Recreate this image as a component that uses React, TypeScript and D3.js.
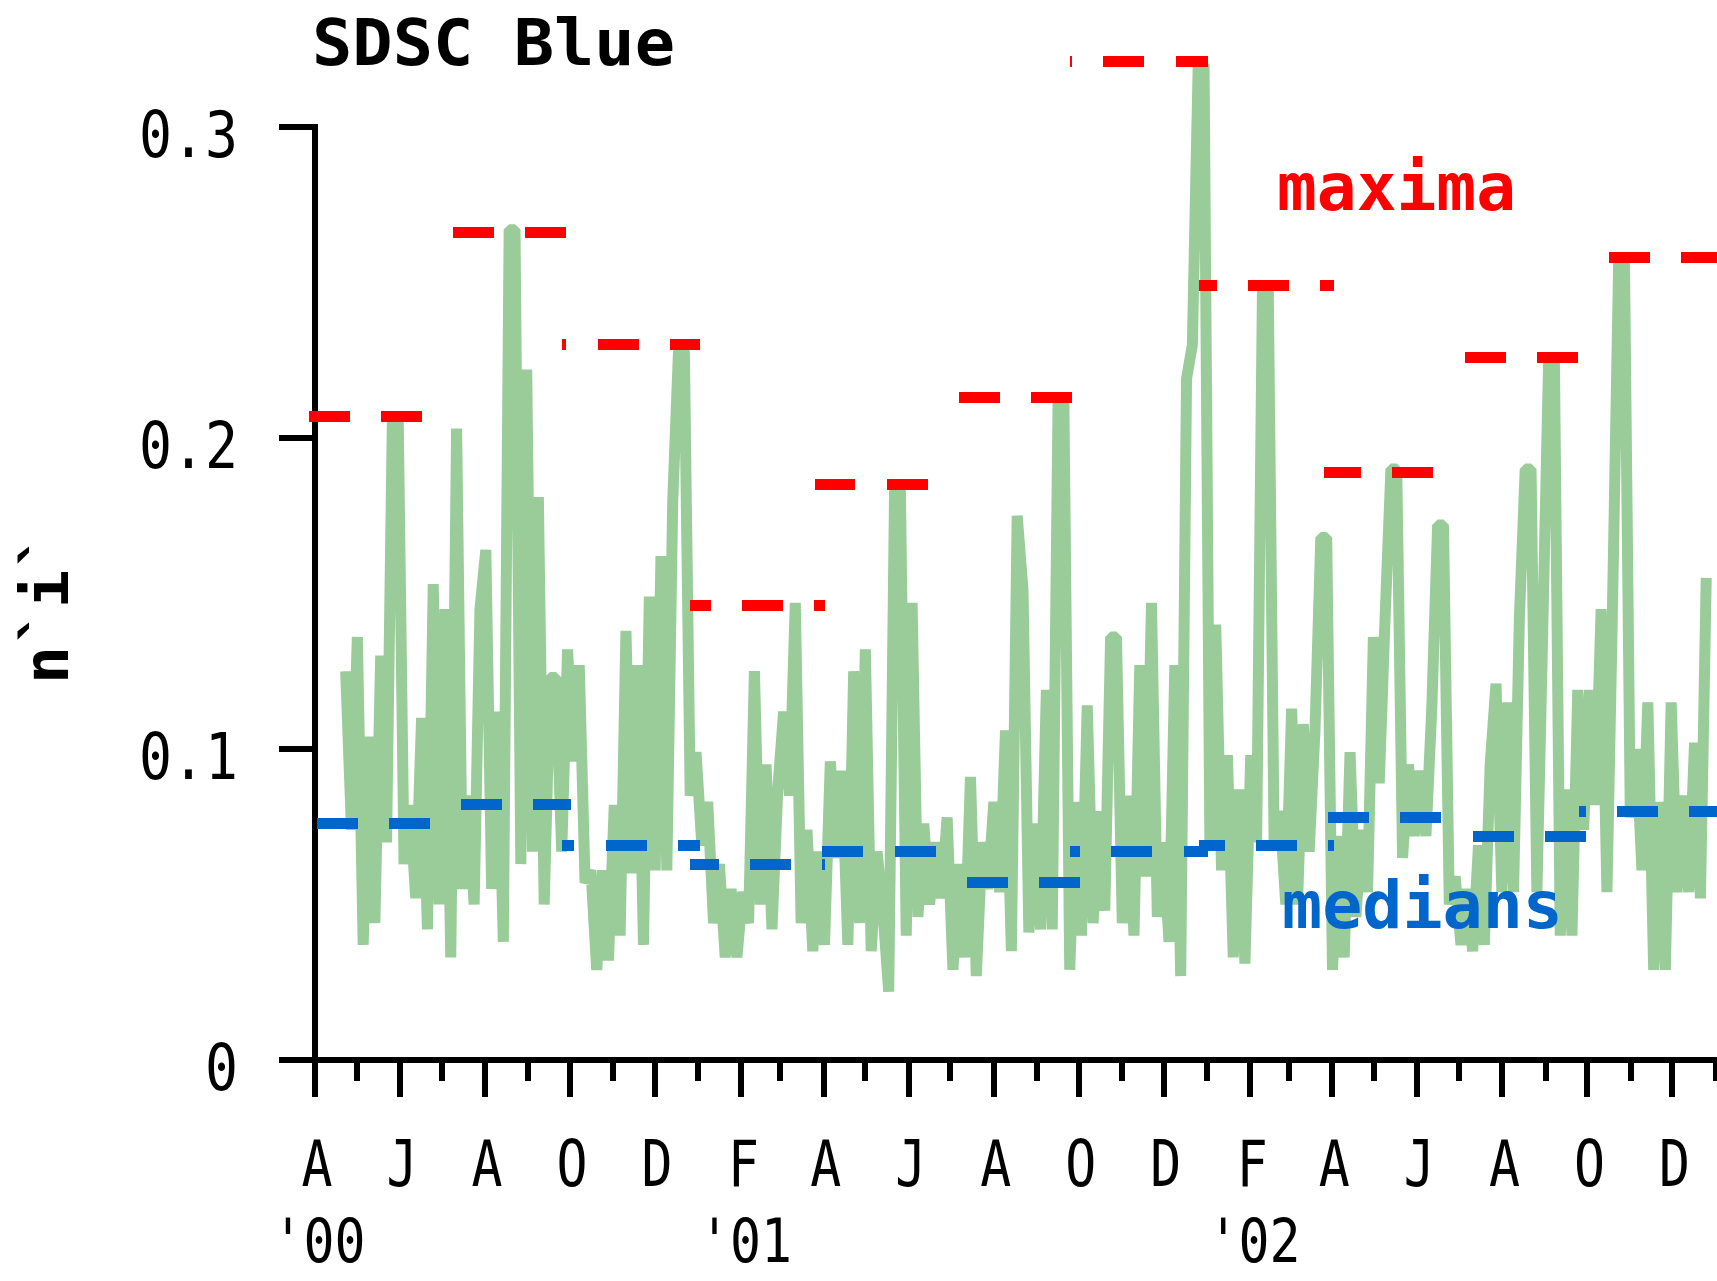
import React from 'react';
import * as d3 from 'd3';

// ---------- data ----------
// Green series: sampled values, evenly spaced in time
const sampleValues: number[] = [
  0.125, 0.074, 0.136, 0.037, 0.104, 0.044, 0.130, 0.070, 0.206, 0.206, 0.063, 0.082, 0.052, 0.110, 0.042, 0.153, 0.050, 0.145,
  0.033, 0.203, 0.055, 0.085, 0.050, 0.145, 0.164, 0.055, 0.112, 0.038, 0.267, 0.267, 0.063, 0.222, 0.067, 0.181, 0.050, 0.123,
  0.123, 0.067, 0.132, 0.096, 0.127, 0.057, 0.061, 0.029, 0.061, 0.032, 0.082, 0.040, 0.138, 0.060, 0.127, 0.037, 0.149, 0.061,
  0.162, 0.061, 0.179, 0.228, 0.228, 0.085, 0.099, 0.069, 0.083, 0.044, 0.063, 0.033, 0.055, 0.033, 0.054, 0.044, 0.125, 0.050,
  0.095, 0.042, 0.087,
  0.112, 0.085, 0.147, 0.044, 0.074, 0.035, 0.067, 0.037, 0.096, 0.065, 0.093, 0.037, 0.125, 0.044, 0.132, 0.035, 0.067, 0.048,
  0.022, 0.183, 0.183, 0.040, 0.147, 0.046, 0.076, 0.050, 0.070, 0.052, 0.078, 0.029, 0.063, 0.033, 0.091, 0.027, 0.070, 0.055,
  0.083, 0.054, 0.106, 0.035, 0.175,
  0.151, 0.041, 0.076, 0.042, 0.119, 0.042, 0.211, 0.211, 0.029, 0.083, 0.040, 0.114, 0.044, 0.080, 0.048, 0.136, 0.136, 0.044,
  0.085, 0.040, 0.127, 0.059, 0.147, 0.046, 0.070, 0.038, 0.127, 0.027, 0.219, 0.230, 0.320, 0.320, 0.070, 0.140, 0.061, 0.098,
  0.033, 0.087, 0.031, 0.098, 0.070,
  0.247, 0.247, 0.070, 0.080, 0.050, 0.113, 0.050, 0.108, 0.067, 0.106, 0.168, 0.168, 0.029, 0.072, 0.033, 0.099, 0.046, 0.074,
  0.054, 0.136, 0.089, 0.142, 0.190, 0.190, 0.065, 0.095, 0.072, 0.093, 0.072, 0.113, 0.172, 0.172, 0.050, 0.059, 0.037, 0.055,
  0.035, 0.069, 0.037, 0.095,
  0.121, 0.054, 0.115, 0.054, 0.142, 0.190, 0.190, 0.054, 0.138, 0.224, 0.224, 0.040, 0.087, 0.040, 0.119, 0.074, 0.119, 0.082,
  0.145, 0.054, 0.151, 0.256, 0.256, 0.078, 0.100, 0.061, 0.115, 0.029, 0.083, 0.029, 0.115, 0.054, 0.085, 0.054, 0.102, 0.052,
  0.155,
];
const sampleStartDate = '2000-04-23';
const sampleStepDays = 4.19;

// Quarterly maxima / medians
const quarterStarts = [
  '2000-04-01', '2000-07-01', '2000-10-01', '2001-01-01', '2001-04-01', '2001-07-01',
  '2001-10-01', '2002-01-01', '2002-04-01', '2002-07-01', '2002-10-01', '2003-01-01',
];
const quarterMaxima = [0.207, 0.266, 0.230, 0.146, 0.185, 0.213, 0.321, 0.249, 0.189, 0.226, 0.258];
const quarterMedians = [0.076, 0.082, 0.069, 0.063, 0.067, 0.057, 0.067, 0.069, 0.078, 0.072, 0.080];

const yTickValues = [0, 0.1, 0.2, 0.3];
const monthInitials = ['J', 'F', 'M', 'A', 'M', 'J', 'J', 'A', 'S', 'O', 'N', 'D'];
const yearLabelText = ["'00", "'01", "'02"];
const yearLabelDates = ['2000-04-01', '2001-02-01', '2002-02-01'];

const titleText = 'SDSC Blue';
const yAxisTitle = 'n`i`';
const maximaLabel = 'maxima';
const mediansLabel = 'medians';

// ---------- style ----------
const GREEN = '#99cc99';
const RED = '#ff0000';
const BLUE = '#0066cc';
const MONO = "'DejaVu Sans Mono', 'Liberation Mono', monospace";

export default function App() {
  const W = 1717;
  const H = 1281;
  const parse = d3.timeParse('%Y-%m-%d');
  const domainStart = parse('2000-04-01') as Date;
  const domainEnd = parse('2003-01-02') as Date;

  const x = d3.scaleTime().domain([domainStart, domainEnd]).range([315, W]);
  const y = d3.scaleLinear().domain([0, 0.3]).range([1060, 127]);

  const start = parse(sampleStartDate) as Date;
  const samples = sampleValues.map((v, i) => ({
    t: new Date(start.getTime() + i * sampleStepDays * 86400000),
    v,
  }));
  const linePath =
    d3
      .line<{ t: Date; v: number }>()
      .x((d) => x(d.t))
      .y((d) => y(d.v))(samples) ?? '';

  const months = d3.timeMonth.range(domainStart, domainEnd);

  const PERIOD = 72.25;
  const DASH = 41;
  const mod = (a: number, m: number) => ((a % m) + m) % m;
  const segs = quarterMaxima.map((mx, i) => {
    const s = parse(quarterStarts[i]) as Date;
    const e = parse(quarterStarts[i + 1]) as Date;
    return {
      x0: x(d3.timeDay.offset(s, -6)),
      x1: Math.min(W, x(d3.timeDay.offset(e, 1))),
      mx,
      md: quarterMedians[i],
    };
  });

  const axisY = y(0);
  const axisX = x(domainStart);
  const T = 6; // axis thickness

  return (
    <svg
      width={W}
      height={H}
      viewBox={`0 0 ${W} ${H}`}
      style={{ position: 'absolute', left: 0, top: 0, display: 'block' }}
    >
      <rect x={0} y={0} width={W} height={H} fill="#ffffff" />

      {/* title */}
      <text x={312} y={65} fontFamily={MONO} fontWeight="bold" fontSize={64} textLength={363} lengthAdjust="spacingAndGlyphs" fill="#000">
        {titleText}
      </text>

      {/* axes */}
      <g shapeRendering="crispEdges" fill="#000">
        <rect x={279} y={axisY - T / 2} width={W - 279} height={T} />
        <rect x={axisX - T / 2} y={y(0.3) - T / 2} width={T} height={axisY - y(0.3) + T / 2} />
        {yTickValues.map((v) => (
          <rect key={'yt' + v} x={279} y={y(v) - T / 2} width={axisX - 279} height={T} />
        ))}
        {months.map((m) => {
          const major = m.getMonth() % 2 === 1;
          const len = major ? 37 : 21;
          return <rect key={'xt' + m.getTime()} x={x(m) - T / 2} y={axisY} width={T} height={len} />;
        })}
      </g>

      {/* y tick labels */}
      {yTickValues.map((v) => {
        const label = v === 0 ? '0' : d3.format('.1f')(v);
        return (
          <text
            key={'yl' + v}
            x={238}
            y={y(v) + 30}
            textAnchor="end"
            fontFamily={MONO}
            fontSize={64}
            fill="#000"
            textLength={label.length * 33}
            lengthAdjust="spacingAndGlyphs"
          >
            {label}
          </text>
        );
      })}

      {/* x month labels */}
      {months
        .filter((m) => m.getMonth() % 2 === 1)
        .map((m) => (
          <text
            key={'xl' + m.getTime()}
            x={x(m) + 2}
            y={1186}
            textAnchor="middle"
            fontFamily={MONO}
            fontSize={64}
            fill="#000"
            textLength={31}
            lengthAdjust="spacingAndGlyphs"
          >
            {monthInitials[m.getMonth()]}
          </text>
        ))}

      {/* year labels */}
      {yearLabelText.map((lab, i) => (
        <text
          key={'yr' + i}
          x={x(parse(yearLabelDates[i]) as Date) + 4}
          y={1262}
          textAnchor="middle"
          fontFamily={MONO}
          fontSize={60}
          fill="#000"
          textLength={93}
          lengthAdjust="spacingAndGlyphs"
        >
          {lab}
        </text>
      ))}

      {/* y axis title */}
      <text
        transform="translate(68,608) rotate(-90)"
        textAnchor="middle"
        fontFamily={MONO}
        fontWeight="bold"
        fontSize={63}
        fill="#000"
        textLength={152}
        lengthAdjust="spacingAndGlyphs"
      >
        {yAxisTitle}
      </text>

      {/* green series */}
      <path d={linePath} fill="none" stroke={GREEN} strokeWidth={11} strokeLinejoin="bevel" strokeLinecap="butt" />

      {/* maxima / medians */}
      <g shapeRendering="crispEdges">
        {segs.map((s, i) => (
          <line
            key={'mx' + i}
            x1={s.x0}
            x2={s.x1}
            y1={y(s.mx)}
            y2={y(s.mx)}
            stroke={RED}
            strokeWidth={11}
            strokeDasharray={`${DASH} ${PERIOD - DASH}`}
            strokeDashoffset={mod(s.x0 - 308.6, PERIOD)}
          />
        ))}
        {segs.map((s, i) => (
          <line
            key={'md' + i}
            x1={s.x0}
            x2={s.x1}
            y1={y(s.md)}
            y2={y(s.md)}
            stroke={BLUE}
            strokeWidth={11}
            strokeDasharray={`${DASH} ${PERIOD - DASH}`}
            strokeDashoffset={mod(s.x0 - 316.6, PERIOD)}
          />
        ))}
      </g>

      {/* series labels */}
      <text x={1277} y={210} fontFamily={MONO} fontWeight="bold" fontSize={65} fill={RED} textLength={239} lengthAdjust="spacingAndGlyphs">
        {maximaLabel}
      </text>
      <text x={1282} y={928} fontFamily={MONO} fontWeight="bold" fontSize={65} fill={BLUE} textLength={281} lengthAdjust="spacingAndGlyphs">
        {mediansLabel}
      </text>
    </svg>
  );
}
